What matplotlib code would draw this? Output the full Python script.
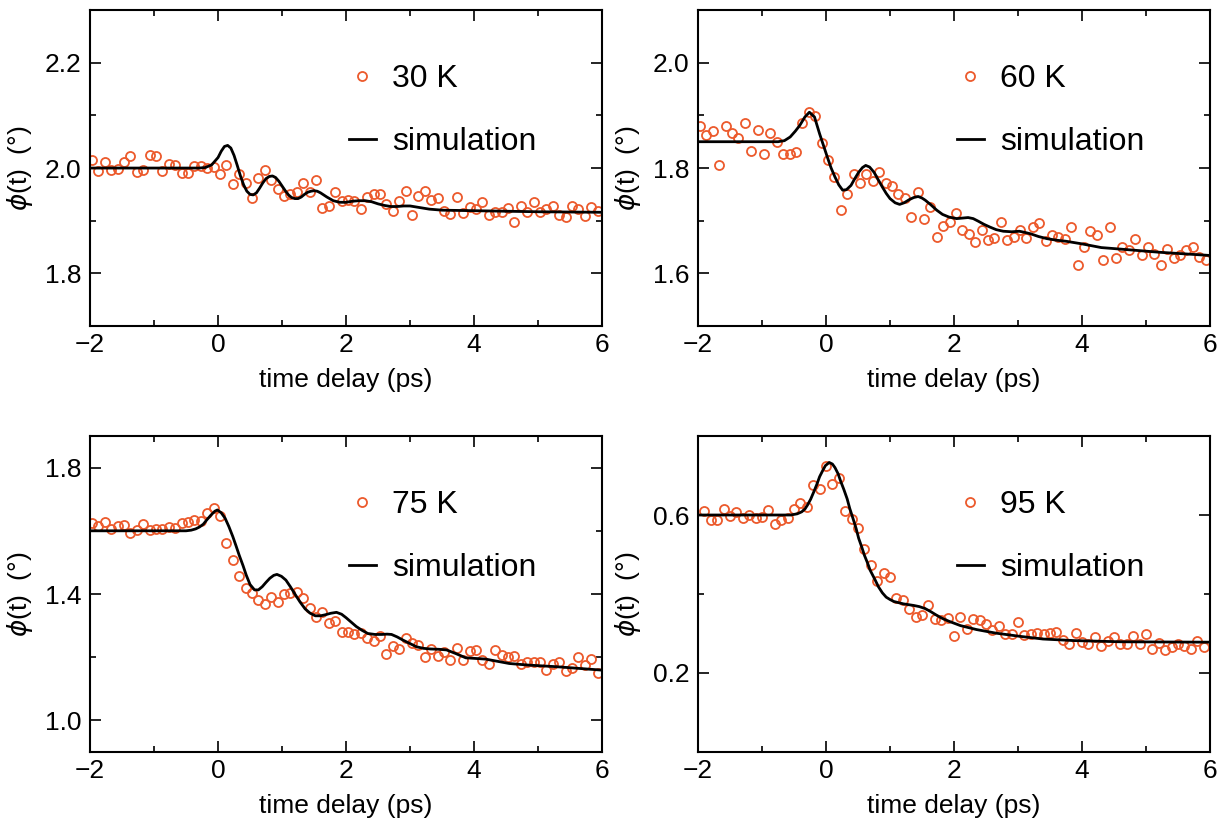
import matplotlib.pyplot as plt
from matplotlib.ticker import MultipleLocator

plt.rcParams['font.family'] = ['Liberation Sans', 'DejaVu Sans']
plt.rcParams['mathtext.fontset'] = 'dejavusans'

# measured time delays (ps)
delay = [-1.97, -1.87, -1.77, -1.67, -1.57, -1.47, -1.37, -1.27, -1.17, -1.07,
         -0.97, -0.87, -0.77, -0.67, -0.57, -0.47, -0.37, -0.27, -0.17, -0.07,
         0.03, 0.13, 0.23, 0.33, 0.43, 0.53, 0.63, 0.73, 0.83, 0.93,
         1.03, 1.13, 1.23, 1.33, 1.43, 1.53, 1.63, 1.73, 1.83, 1.93,
         2.03, 2.13, 2.23, 2.33, 2.43, 2.53, 2.63, 2.73, 2.83, 2.93,
         3.03, 3.13, 3.23, 3.33, 3.43, 3.53, 3.63, 3.73, 3.83, 3.93,
         4.03, 4.13, 4.23, 4.33, 4.43, 4.53, 4.63, 4.73, 4.83, 4.93,
         5.03, 5.13, 5.23, 5.33, 5.43, 5.53, 5.63, 5.73, 5.83, 5.93]
delay_95 = [-1.9, -1.8, -1.7, -1.6, -1.5, -1.4, -1.3, -1.2, -1.1, -1.0,
            -0.9, -0.8, -0.7, -0.6, -0.5, -0.4, -0.3, -0.2, -0.1, 0.0,
            0.1, 0.2, 0.3, 0.4, 0.5, 0.6, 0.7, 0.8, 0.9, 1.0,
            1.1, 1.2, 1.3, 1.4, 1.5, 1.6, 1.7, 1.8, 1.9, 2.0,
            2.1, 2.2, 2.3, 2.4, 2.5, 2.6, 2.7, 2.8, 2.9, 3.0,
            3.1, 3.2, 3.3, 3.4, 3.5, 3.6, 3.7, 3.8, 3.9, 4.0,
            4.1, 4.2, 4.3, 4.4, 4.5, 4.6, 4.7, 4.8, 4.9, 5.0,
            5.1, 5.2, 5.3, 5.4, 5.5, 5.6, 5.7, 5.8, 5.9]

# measured phi(t) in degrees
phi_30 = [2.016, 1.994, 2.011, 1.997, 1.999, 2.012, 2.023, 1.992, 1.997, 2.024,
          2.022, 1.994, 2.007, 2.006, 1.990, 1.990, 2.003, 2.004, 2.000, 2.002,
          1.989, 2.006, 1.970, 1.988, 1.971, 1.943, 1.982, 1.996, 1.977, 1.961,
          1.946, 1.951, 1.955, 1.971, 1.954, 1.978, 1.924, 1.928, 1.955, 1.937,
          1.940, 1.938, 1.923, 1.945, 1.951, 1.950, 1.931, 1.918, 1.937, 1.956,
          1.910, 1.947, 1.957, 1.940, 1.944, 1.919, 1.913, 1.945, 1.915, 1.926,
          1.923, 1.935, 1.910, 1.916, 1.917, 1.924, 1.898, 1.927, 1.916, 1.935,
          1.916, 1.923, 1.927, 1.910, 1.907, 1.927, 1.923, 1.909, 1.926, 1.918]
phi_60 = [1.879, 1.863, 1.870, 1.806, 1.880, 1.866, 1.857, 1.885, 1.832, 1.872,
          1.827, 1.866, 1.849, 1.827, 1.826, 1.830, 1.885, 1.906, 1.899, 1.848,
          1.816, 1.783, 1.721, 1.751, 1.789, 1.772, 1.789, 1.775, 1.792, 1.772,
          1.766, 1.751, 1.744, 1.708, 1.754, 1.703, 1.726, 1.669, 1.690, 1.698,
          1.715, 1.683, 1.675, 1.660, 1.682, 1.664, 1.668, 1.698, 1.664, 1.669,
          1.683, 1.668, 1.689, 1.696, 1.661, 1.672, 1.669, 1.665, 1.689, 1.615,
          1.651, 1.680, 1.672, 1.626, 1.688, 1.630, 1.650, 1.644, 1.666, 1.634,
          1.650, 1.636, 1.615, 1.647, 1.630, 1.635, 1.644, 1.651, 1.631, 1.626]
phi_75 = [1.624, 1.616, 1.629, 1.606, 1.616, 1.618, 1.592, 1.603, 1.621, 1.601,
          1.606, 1.606, 1.613, 1.608, 1.624, 1.629, 1.634, 1.631, 1.655, 1.671,
          1.648, 1.560, 1.508, 1.457, 1.418, 1.402, 1.381, 1.367, 1.392, 1.376,
          1.399, 1.402, 1.407, 1.388, 1.355, 1.328, 1.344, 1.307, 1.315, 1.281,
          1.281, 1.272, 1.275, 1.262, 1.251, 1.268, 1.209, 1.236, 1.225, 1.262,
          1.244, 1.239, 1.202, 1.225, 1.204, 1.217, 1.191, 1.228, 1.191, 1.220,
          1.223, 1.191, 1.177, 1.223, 1.207, 1.202, 1.204, 1.180, 1.184, 1.186,
          1.184, 1.159, 1.180, 1.184, 1.156, 1.167, 1.202, 1.175, 1.194, 1.149]
phi_95 = [0.611, 0.587, 0.587, 0.615, 0.598, 0.608, 0.592, 0.600, 0.593, 0.596,
          0.613, 0.577, 0.587, 0.593, 0.614, 0.630, 0.621, 0.675, 0.666, 0.723,
          0.678, 0.693, 0.610, 0.590, 0.566, 0.514, 0.473, 0.432, 0.454, 0.443,
          0.390, 0.386, 0.363, 0.342, 0.346, 0.371, 0.336, 0.333, 0.339, 0.293,
          0.342, 0.312, 0.336, 0.333, 0.325, 0.308, 0.320, 0.299, 0.299, 0.329,
          0.295, 0.299, 0.302, 0.299, 0.302, 0.303, 0.284, 0.274, 0.302, 0.278,
          0.274, 0.291, 0.269, 0.282, 0.291, 0.274, 0.274, 0.293, 0.274, 0.299,
          0.261, 0.275, 0.258, 0.265, 0.274, 0.269, 0.261, 0.280, 0.265]

# simulation curves
sim_t_30 = [-2.0, -0.3, -0.2, -0.1, 0.0, 0.05, 0.1, 0.15, 0.2, 0.25, 0.3, 0.35, 0.4,
            0.45, 0.5, 0.55, 0.6, 0.65, 0.7, 0.75, 0.8, 0.85, 0.9, 0.95, 1.0, 1.05,
            1.1, 1.15, 1.2, 1.25, 1.3, 1.35, 1.4, 1.45, 1.5, 1.55, 1.6, 1.7, 1.8,
            1.9, 2.0, 2.1, 2.2, 2.3, 2.4, 2.5, 2.6, 2.7, 2.8, 2.9, 3.0, 3.1, 3.2,
            3.3, 3.5, 4.0, 5.0, 6.0]
sim_30 = [2.000, 2.000, 2.001, 2.006, 2.020, 2.032, 2.041, 2.043, 2.038, 2.024, 2.005,
          1.985, 1.968, 1.956, 1.950, 1.949, 1.953, 1.962, 1.972, 1.980, 1.984, 1.985,
          1.982, 1.975, 1.966, 1.957, 1.949, 1.944, 1.942, 1.942, 1.945, 1.950, 1.954,
          1.956, 1.957, 1.956, 1.953, 1.945, 1.938, 1.935, 1.935, 1.937, 1.938, 1.938,
          1.936, 1.932, 1.929, 1.927, 1.927, 1.928, 1.928, 1.926, 1.924, 1.922, 1.920,
          1.919, 1.917, 1.916]
sim_t_60 = [-2.0, -0.75, -0.65, -0.56, -0.48, -0.41, -0.33, -0.26, -0.18, -0.10, 0.02,
            0.08, 0.14, 0.20, 0.26, 0.32, 0.39, 0.45, 0.51, 0.57, 0.62, 0.68, 0.75,
            0.81, 0.88, 0.94, 1.0, 1.08, 1.15, 1.22, 1.30, 1.37, 1.44, 1.50, 1.55,
            1.64, 1.73, 1.82, 1.92, 2.04, 2.13, 2.22, 2.30, 2.38, 2.47, 2.56, 2.66,
            2.77, 2.90, 3.02, 3.10, 3.20, 3.32, 3.45, 3.60, 3.75, 4.0, 4.30, 4.61,
            5.22, 6.0]
sim_60 = [1.850, 1.850, 1.852, 1.859, 1.870, 1.881, 1.897, 1.906, 1.897, 1.865, 1.821,
          1.800, 1.783, 1.768, 1.758, 1.759, 1.767, 1.780, 1.792, 1.801, 1.805, 1.802,
          1.792, 1.779, 1.764, 1.752, 1.742, 1.734, 1.731, 1.734, 1.740, 1.744, 1.746,
          1.743, 1.739, 1.730, 1.720, 1.712, 1.707, 1.704, 1.705, 1.706, 1.704, 1.699,
          1.693, 1.688, 1.683, 1.680, 1.679, 1.680, 1.678, 1.675, 1.670, 1.666, 1.663,
          1.661, 1.656, 1.649, 1.646, 1.640, 1.634]
sim_t_75 = [-2.0, -0.5, -0.42, -0.35, -0.29, -0.23, -0.17, -0.11, -0.05, -0.01, 0.05,
            0.11, 0.17, 0.23, 0.28, 0.33, 0.39, 0.44, 0.50, 0.57, 0.63, 0.69, 0.75,
            0.81, 0.87, 0.92, 0.99, 1.06, 1.13, 1.21, 1.28, 1.36, 1.44, 1.52, 1.60,
            1.67, 1.76, 1.85, 1.93, 2.0, 2.08, 2.16, 2.25, 2.34, 2.45, 2.56, 2.64,
            2.71, 2.80, 2.89, 3.0, 3.10, 3.21, 3.32, 3.45, 3.57, 3.72, 3.87, 4.18,
            4.55, 4.85, 5.28, 6.0]
sim_75 = [1.600, 1.600, 1.602, 1.606, 1.612, 1.621, 1.636, 1.650, 1.662, 1.666, 1.657,
          1.640, 1.613, 1.582, 1.553, 1.523, 1.490, 1.460, 1.430, 1.413, 1.413, 1.423,
          1.437, 1.450, 1.459, 1.462, 1.456, 1.444, 1.423, 1.397, 1.375, 1.353, 1.339,
          1.331, 1.331, 1.334, 1.339, 1.342, 1.336, 1.325, 1.311, 1.297, 1.285, 1.275,
          1.272, 1.272, 1.273, 1.272, 1.264, 1.254, 1.243, 1.233, 1.228, 1.226, 1.225,
          1.223, 1.211, 1.198, 1.194, 1.180, 1.175, 1.170, 1.159]
sim_t_95 = [-2.0, -0.55, -0.45, -0.38, -0.33, -0.29, -0.24, -0.19, -0.14, -0.10, -0.05,
            -0.01, 0.05, 0.10, 0.14, 0.19, 0.23, 0.28, 0.33, 0.37, 0.42, 0.47, 0.51,
            0.56, 0.60, 0.65, 0.69, 0.76, 0.82, 0.88, 0.94, 1.0, 1.06, 1.21, 1.37,
            1.46, 1.55, 1.64, 1.73, 1.82, 1.92, 2.10, 2.35, 2.65, 3.02, 3.39, 3.88,
            4.61, 6.0]
sim_95 = [0.600, 0.600, 0.603, 0.608, 0.615, 0.625, 0.640, 0.659, 0.679, 0.697, 0.713,
          0.725, 0.733, 0.729, 0.720, 0.704, 0.685, 0.664, 0.641, 0.617, 0.592, 0.566,
          0.541, 0.518, 0.498, 0.478, 0.460, 0.438, 0.418, 0.403, 0.392, 0.386, 0.381,
          0.375, 0.371, 0.368, 0.363, 0.355, 0.346, 0.338, 0.331, 0.320, 0.310, 0.301,
          0.293, 0.286, 0.282, 0.279, 0.278]

labels = ['30 K', '60 K', '75 K', '95 K']
ylims = [(1.7, 2.3), (1.5, 2.1), (0.9, 1.9), (0.0, 0.8)]
ymajor = [0.2, 0.2, 0.4, 0.4]
yticks = [[1.8, 2.0, 2.2], [1.6, 1.8, 2.0], [1.0, 1.4, 1.8], [0.2, 0.6]]

panels = [
    (delay, phi_30, sim_t_30, sim_30),
    (delay, phi_60, sim_t_60, sim_60),
    (delay, phi_75, sim_t_75, sim_75),
    (delay_95, phi_95, sim_t_95, sim_95),
]

data_color = '#EC5A2C'

fig = plt.figure(figsize=(12.25, 8.25), dpi=100)
lefts = [0.0735, 0.5698, 0.0735, 0.5698]
bottoms = [0.6048, 0.6048, 0.0885, 0.0885]

for i, (t, phi, st, sim) in enumerate(panels):
    ax = fig.add_axes([lefts[i], bottoms[i], 0.418, 0.383])
    ax.plot(t, phi, 'o', ls='none', ms=6.5, mfc='none', mec=data_color, mew=1.3,
            label=labels[i], zorder=2)
    ax.plot(st, sim, '-', color='black', lw=2.0, label='simulation', zorder=3)

    ax.set_xlim(-2, 6)
    ax.set_ylim(*ylims[i])
    ax.xaxis.set_major_locator(MultipleLocator(2))
    ax.xaxis.set_minor_locator(MultipleLocator(1))
    ax.set_yticks(yticks[i])
    ax.yaxis.set_minor_locator(MultipleLocator(ymajor[i] / 2))
    ax.tick_params(which='both', direction='in', top=True, right=True,
                   labelsize=19, width=1.2)
    ax.tick_params(axis='y', pad=6)
    ax.tick_params(axis='x', pad=5)
    ax.tick_params(which='major', length=8)
    ax.tick_params(which='minor', length=4.5)
    for sp in ax.spines.values():
        sp.set_linewidth(1.5)

    ax.set_xlabel('time delay (ps)', fontsize=19, labelpad=8)
    ax.set_ylabel(r'$\phi$(t)  (°)', fontsize=19, labelpad=7)

    ax.legend(loc='upper left', bbox_to_anchor=(0.505, 0.828), frameon=False,
              fontsize=23, handlelength=0.85, handletextpad=0.5,
              labelspacing=1.02, borderpad=0, borderaxespad=0)

fig.savefig('out.png', dpi=100)
